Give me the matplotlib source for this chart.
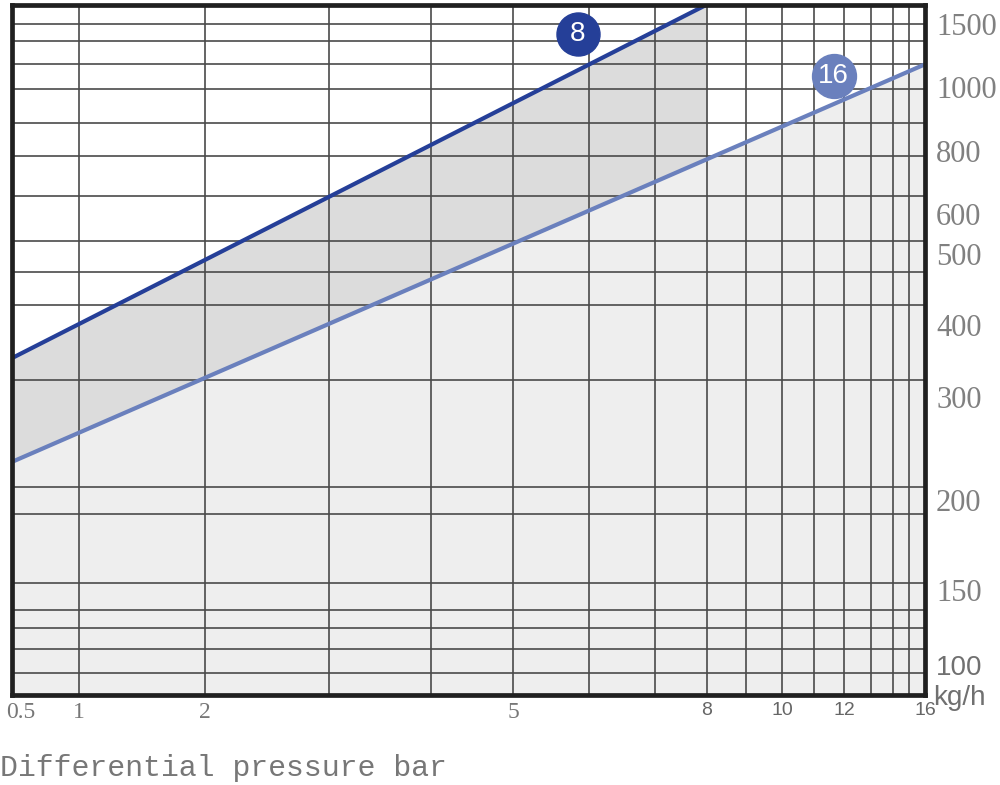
import numpy as np
import matplotlib
matplotlib.use('Agg')
import matplotlib.pyplot as plt
import matplotlib.transforms as mtrans

# pressure axis ruler: value -> pixel column in the original sheet
x_vals = [0.5, 1, 2, 3, 4, 5, 6, 7, 8, 9, 10, 11, 12, 13, 14, 15, 16]
x_px = [12, 79, 205, 329, 431, 513, 589, 655, 707, 746, 782, 814, 844, 871, 893, 909, 925]
# flow axis ruler: value -> pixel row
y_vals = [80, 100, 150, 200, 300, 400, 500, 600, 800, 1000, 1500, 1655]
y_px = [695, 665, 590, 500, 397, 325, 254, 214, 151, 87, 24, 4.5]

x_ticks = [0.5, 1, 2, 5, 8, 10, 12, 16]
x_ticklabels = ['0.5', '1', '2', '5', '8', '10', '12', '16']
y_ticks = [100, 150, 200, 300, 400, 500, 600, 800, 1000, 1500]
x_grid = [1, 2, 3, 4, 5, 6, 7, 8, 9, 10, 11, 12, 13, 14, 15]
y_grid = [95, 111, 125, 137, 154, 192, 213, 324, 428, 475, 533, 657, 784, 888, 994, 1183, 1365, 1500]

# flow curves (kg/h) vs differential pressure (bar)
dp_8 = [0.5, 8]
flow_8 = [354, 1655]
dp_16 = [0.5, 8, 16]
flow_16 = [237, 774, 1180]

xpos = (np.array(x_px) - x_px[0]) / (x_px[-1] - x_px[0])
ypos = (y_px[0] - np.array(y_px)) / (y_px[0] - y_px[-1])

def fx(v):
    return np.interp(v, x_vals, xpos)
def ifx(p):
    return np.interp(p, xpos, x_vals)
def fy(v):
    return np.interp(v, y_vals, ypos)
def ify(p):
    return np.interp(p, ypos, y_vals)

dark = '#253f98'
light = '#6a80bd'

fig = plt.figure(figsize=(10, 7.85), dpi=100)
ax = fig.add_axes([0.012, 90 / 785, 0.913, 690.5 / 785])
ax.set_xscale('function', functions=(fx, ifx))
ax.set_yscale('function', functions=(fy, ify))
ax.set_xlim(0.5, 16)
ax.set_ylim(80, 1655)

# shaded zones
ax.fill_between(dp_16, flow_16, 80, color='#eeeeee', lw=0)
ax.fill_between(dp_8, flow_16[:2], flow_8, color='#dcdcdc', lw=0)

ax.plot(dp_8, flow_8, color=dark, lw=3, solid_capstyle='butt')
ax.plot(dp_16, flow_16, color=light, lw=3, solid_capstyle='butt')

# curve markers
ax.scatter([5.85], [1420], s=960, color=dark, zorder=5, clip_on=False)
ax.text(5.85, 1420, '8', color='white', fontsize=20, ha='center', va='center',
        family='Liberation Sans', zorder=6)
ax.scatter([11.65], [1090], s=1000, color=light, zorder=5, clip_on=False)
ax.text(11.65, 1090, '16', color='white', fontsize=20, ha='center', va='center',
        family='Liberation Sans', zorder=6)

# grid (keep minor lines that sit on labelled ticks)
ax.xaxis.remove_overlapping_locs = False
ax.yaxis.remove_overlapping_locs = False
ax.set_xticks(x_grid, minor=True)
ax.set_yticks(y_grid, minor=True)
ax.grid(False, which='major')
ax.grid(True, which='minor', color='#4a4a4a', lw=1.2)

ax.set_xticks(x_ticks)
ax.set_xticklabels(x_ticklabels)
ax.set_yticks(y_ticks)
ax.set_yticklabels([str(v) for v in y_ticks])
ax.yaxis.tick_right()
ax.tick_params(which='both', length=0)
ax.tick_params(axis='x', pad=5)
ax.tick_params(axis='y', pad=8)

for lab in ax.get_xticklabels():
    if lab.get_text() in ('0.5', '1', '2', '5'):
        lab.set_fontfamily('Liberation Serif')
        lab.set_fontsize(17)
        lab.set_color('#777777')
    else:
        lab.set_fontfamily('Liberation Sans')
        lab.set_fontsize(14)
        lab.set_color('#666666')
    if lab.get_text() == '0.5':
        # nudge first label inside the figure
        lab.set_transform(lab.get_transform() +
                          mtrans.ScaledTranslation(6 / 72, 0, fig.dpi_scale_trans))
for lab in ax.get_yticklabels():
    if lab.get_text() == '100':
        lab.set_fontfamily('Liberation Sans')
        lab.set_fontsize(20)
        lab.set_color('#707070')
    else:
        lab.set_fontfamily('Liberation Serif')
        lab.set_fontsize(22)
        lab.set_color('#808080')

for s in ax.spines.values():
    s.set_linewidth(3.4)
    s.set_color('#202020')

ax.text(1.009, -0.005, 'kg/h', transform=ax.transAxes, fontsize=20,
        family='Liberation Sans', color='#707070', ha='left', va='center')
fig.text(0.0, 17 / 785, 'Differential pressure bar', fontsize=21.5,
         family='Liberation Mono', color='#777777', ha='left', va='center')

fig.savefig('out.png', dpi=100)
